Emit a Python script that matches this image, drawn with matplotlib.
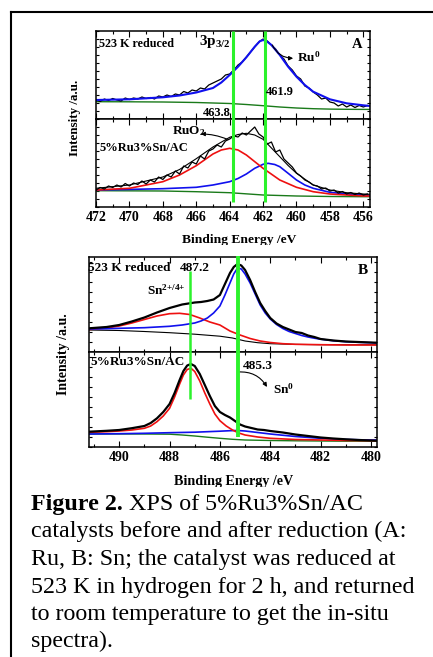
"""XPS figure (Ru 3p and Sn 3d) for 5%Ru3%Sn/AC, before and after reduction."""
import matplotlib
matplotlib.use("Agg")
import matplotlib.pyplot as plt
import numpy as np
from matplotlib.lines import Line2D
from matplotlib.ticker import MultipleLocator
from matplotlib.transforms import Bbox, TransformedBbox, blended_transform_factory

plt.rcParams["font.family"] = "serif"
plt.rcParams["font.serif"] = ["Liberation Serif", "DejaVu Serif"]
plt.rcParams["font.weight"] = "bold"
plt.rcParams["mathtext.fontset"] = "custom"
plt.rcParams["mathtext.rm"] = "Liberation Serif:bold"
plt.rcParams["mathtext.it"] = "Liberation Serif:bold"
plt.rcParams["mathtext.bf"] = "Liberation Serif:bold"

W, H = 433, 657

# ---- Panel A: Ru 3p, 523 K reduced (top) -------------------------------
a_top_data = [19, 17.5, 20, 18.5, 20.5, 19, 18, 21, 19.5, 21, 20, 22, 20.5, 21.5,
              20, 23, 22, 24, 22.5, 25, 24, 27.5, 26, 29, 28, 31, 30, 34, 36, 38,
              40, 44, 45, 49, 54, 57, 62, 67, 72, 77, 80, 78, 74, 70, 64, 60, 53,
              49, 43, 40, 33, 31, 27, 24, 20, 21, 17, 16, 13, 15, 12, 14, 11.5,
              13.5, 12, 13.5]
a_top_fit_e = [472, 470, 468, 467, 466, 465, 464.5, 464, 463.5, 463, 462.5, 462.2,
               462, 461.8, 461.5, 461, 460.5, 460, 459.5, 459, 458, 457, 456, 455.6]
a_top_fit = [19, 19.7, 21.7, 23.5, 26.5, 31, 36.5, 44, 52.3, 61.7, 72.3, 77.7,
             79, 78, 74, 64, 52.3, 42.3, 34, 27.3, 19.7, 15.7, 13.7, 13]
a_top_bg_e = [472, 470, 468, 466, 464, 463, 462, 461, 460, 459, 458, 457, 456, 455.6]
a_top_bg = [17.3, 17.2, 17, 16.5, 15.5, 14.5, 13.3, 12, 11, 10.3, 9.9, 9.7, 9.6, 9.6]

# ---- Panel A: Ru 3p, fresh 5%Ru3%Sn/AC (bottom) -------------------------
a_bot_data = [17, 19.5, 18, 21, 19.5, 22, 20, 23.5, 21, 24, 22.5, 26, 23, 27, 25,
              30, 27.5, 32, 30, 36, 33, 41, 39, 45, 43, 51, 48, 56, 58, 62, 60, 66,
              68, 71, 70, 74, 72, 76, 80, 73, 70, 63, 65, 55, 57, 48, 44, 40, 34,
              31, 27, 25, 22, 21, 18, 19, 16, 17, 14, 15.5, 13, 14.5, 12.5, 14, 12, 13]
a_bot_env_e = [472, 470, 468, 467, 466, 465, 464, 463.5, 463, 462.5, 462, 461.5,
               461, 460.5, 460, 459, 458, 457, 456, 455.6]
a_bot_env = [18.7, 22, 30, 37.5, 48.3, 60, 69.7, 72.5, 73.7, 72, 67.7, 59, 50.3,
             41.5, 33.7, 22, 17, 14.3, 13, 12.7]
a_ruo2_e = [472, 470, 468, 467, 466, 465, 464.5, 464, 463.5, 463, 462, 461, 460,
            459, 458, 457, 456, 455.6]
a_ruo2 = [17, 18.7, 25.3, 32, 41.3, 53, 57, 58.7, 57, 52, 38.7, 27, 19.7, 15.3, 13,
          12, 11, 11]
a_ru_e = [472, 470, 468, 466, 465, 464, 463.5, 463, 462.5, 462, 461.7, 461.3, 461,
          460.5, 460, 459.5, 459, 458, 457, 456, 455.6]
a_ru = [17, 17.6, 18.3, 19.7, 22, 25.3, 28.5, 33, 38.7, 42.7, 43.7, 42.5, 40.3,
        33.7, 27, 22, 18.7, 14.7, 13, 12, 11.7]
a_bot_bg_e = [472, 468, 466, 464, 462, 460, 458, 456, 455.6]
a_bot_bg = [16.3, 16, 15.3, 14.3, 12, 11, 10.5, 10.3, 10.3]

# ---- Panel B: Sn 3d, 523 K reduced (top) --------------------------------
b_top_e = [491.2, 490.5, 490, 489.5, 489, 488.5, 488, 487.5, 487, 486.75, 486.5,
           486.25, 486, 485.8, 485.6, 485.45, 485.3, 485.15, 485.0, 484.8, 484.6,
           484.4, 484.2, 484, 483.75, 483.5, 483.25, 483, 482.75, 482.5, 482.25,
           482, 481.5, 481, 480.5, 480, 479.8]
b_top_data = [23.7, 25, 27, 30.5, 34.5, 39.5, 44, 47.5, 49.5, 50, 51, 52.5, 57, 68,
              79, 85, 88, 86.5, 82, 72, 60, 49, 41, 34, 28.5, 25, 22.5, 20, 19,
              16.5, 15, 13, 11.5, 10.5, 10, 9.5, 9.3]
b_top_sn0 = [23, 23.3, 23.7, 24, 24.3, 25, 25.7, 27, 29, 31, 34, 39, 46, 57, 69,
             78, 84, 83, 78, 69, 58, 47, 39, 33, 27.5, 23.5, 20.5, 18.5, 16.5, 15,
             13.8, 12.8, 11.3, 10.3, 9.7, 9.3, 9]
b_top_ox_e = [491.2, 490.5, 490, 489.5, 489, 488.5, 488, 487.6, 487.2, 486.8, 486.4,
              486, 485.6, 485.2, 484.8, 484.4, 484, 483.5, 483, 482, 481, 479.8]
b_top_ox = [22.5, 24, 26, 29, 32.5, 36, 38.3, 38.7, 37.5, 34, 30, 27, 21, 17, 13.5,
            11, 9.5, 8.3, 7.7, 7.3, 7, 7]
b_top_bg_e = [491.2, 490, 489, 488, 487, 486, 485.5, 485, 484.5, 484, 483, 482, 479.8]
b_top_bg = [22, 21.5, 20.5, 19.3, 17.8, 15.8, 14, 11, 9.3, 8.3, 7.6, 7.3, 7.2]

# ---- Panel B: Sn 3d, fresh 5%Ru3%Sn/AC (bottom) -------------------------
b_bot_e = [491.2, 490.5, 490, 489.5, 489, 488.75, 488.5, 488.25, 488, 487.8, 487.6,
           487.45, 487.3, 487.15, 487.0, 486.8, 486.6, 486.4, 486.2, 486, 485.8,
           485.6, 485.4, 485.2, 485, 484.75, 484.5, 484.25, 484, 483.5, 483,
           482.5, 482, 481.5, 481, 480.5, 480, 479.8]
b_bot_data = [15.3, 16.2, 17, 18.8, 21, 24, 28.7, 35, 43, 54, 67, 76, 81.5, 83, 81,
              73, 62, 51, 41, 35, 32, 29.5, 26, 22.5, 20.5, 19, 17.5, 17, 16, 14.5,
              12.5, 11, 9.5, 8.5, 7.7, 7, 6.5, 6.3]
b_bot_ox_e = [491.2, 490.5, 490, 489.5, 489, 488.75, 488.5, 488.25, 488, 487.8,
              487.6, 487.45, 487.3, 487.15, 487.0, 486.8, 486.6, 486.4, 486.2, 486,
              485.75, 485.5, 485.25, 485, 484.5, 484, 483, 482, 481, 479.8]
b_bot_ox = [14.7, 15.3, 16, 17, 18.7, 21, 25.3, 31, 38.7, 50, 63, 72, 77.5, 78.7,
            75.5, 66, 54, 43, 33, 26.3, 21, 17, 14, 12, 10, 8.7, 7.5, 7, 6.5, 6.3]
b_bot_sn0_e = [491.2, 490, 489, 488, 487, 486.5, 486, 485.6, 485.3, 485, 484.5, 484,
               483, 482, 481, 480, 479.8]
b_bot_sn0 = [13, 13.3, 13.7, 14.3, 14.8, 15.3, 15.8, 16.3, 16.5, 16, 14.5, 13, 10.5,
             8.7, 7.5, 7, 7]
b_bot_bg_e = [491.2, 490, 489, 488, 487.5, 487, 486.5, 486, 485.5, 485, 484, 483,
              482, 481, 479.8]
b_bot_bg = [13, 13, 13, 12.8, 12, 11, 9.8, 8.7, 7.7, 7, 6.5, 6.2, 6, 5.8, 5.8]

ru_peaks = [463.8, 461.9]
sn_peaks = [487.2, 485.3]
a_ticks = [472, 470, 468, 466, 464, 462, 460, 458, 456]
b_ticks = [490, 488, 486, 484, 482, 480]

caption = [
    "catalysts before and after reduction (A:",
    "Ru, B: Sn; the catalyst was reduced at",
    "523 K in hydrogen for 2 h, and returned",
    "to room temperature to get the in-situ",
    "spectra).",
]

GREEN = "#2cf22c"
DKGREEN = "#1a7a1a"


def fx(px):
    return px / W


def fy(py):
    return 1 - py / H


def make_axes(fig, left, top, right, bottom):
    return fig.add_axes([fx(left), fy(bottom), (right - left) / W, (bottom - top) / H])


def style(ax, xlim, ylim, ticks, ystep, labels):
    ax.set_xlim(*xlim)
    ax.set_ylim(0, ylim)
    ax.set_xticks(ticks)
    ax.xaxis.set_minor_locator(MultipleLocator(1))
    ax.yaxis.set_major_locator(MultipleLocator(ystep))
    ax.set_yticklabels([])
    ax.tick_params(which="both", direction="in", top=True, right=True, width=0.8)
    ax.tick_params(axis="x", which="major", length=4, labelsize=10, pad=3)
    ax.tick_params(axis="x", which="minor", length=2.5)
    ax.tick_params(axis="y", length=2.5)
    ax.tick_params(labelleft=False, labelbottom=labels)
    for sp in ax.spines.values():
        sp.set_linewidth(1.1)


def vline(fig, ax, x, y0, y1, lw):
    tr = blended_transform_factory(ax.transData, fig.transFigure)
    fig.add_artist(Line2D([x, x], [fy(y0), fy(y1)], transform=tr, color=GREEN,
                          lw=lw, solid_capstyle="butt"))


def label(fig, px, py, s, size, **kw):
    kw.setdefault("ha", "left")
    kw.setdefault("va", "center")
    return fig.text(fx(px), fy(py), s, fontsize=size, fontweight="bold", **kw)


def arrow(ax, head, tail, rad):
    ax.annotate("", xy=head, xytext=tail,
                arrowprops=dict(arrowstyle="-|>", color="black", lw=0.8,
                                mutation_scale=6, shrinkA=0, shrinkB=0,
                                connectionstyle=f"arc3,rad={rad}"))


def clipped_xlabel(fig, px, py, clip_py, size):
    t = label(fig, px, py, "Binding Energy /eV", size, ha="center")
    t.set_clip_box(TransformedBbox(Bbox([[0, fy(clip_py)], [1, 1]]), fig.transFigure))
    t.set_clip_on(True)


def main():
    fig = plt.figure(figsize=(W / 100, H / 100), dpi=100)

    # outer frame
    fig.add_artist(Line2D([fx(11), fx(11)], [fy(12), fy(H)], color="black", lw=1.5))
    fig.add_artist(Line2D([fx(11), fx(W)], [fy(12), fy(12)], color="black", lw=1.5))

    # ---------------- panel A ----------------
    a_e = 472 - 0.25 * np.arange(len(a_top_data))
    at = make_axes(fig, 96, 31, 370, 119)
    ab = make_axes(fig, 96, 119, 370, 207)
    at.plot(a_top_bg_e, a_top_bg, color=DKGREEN, lw=1.0)
    at.plot(a_e, a_top_data, color="black", lw=0.9)
    at.plot(a_top_fit_e, a_top_fit, color="#1010ee", lw=1.5)
    ab.plot(a_bot_bg_e, a_bot_bg, color=DKGREEN, lw=1.0)
    ab.plot(a_ru_e, a_ru, color="#1010ee", lw=1.2)
    ab.plot(a_ruo2_e, a_ruo2, color="#ee1010", lw=1.2)
    ab.plot(a_e, a_bot_data, color="black", lw=0.9)
    ab.plot(a_bot_env_e, a_bot_env, color="black", lw=0.8)
    style(at, (472, 455.6), 88, a_ticks, 8, False)
    style(ab, (472, 455.6), 88, a_ticks, 8, True)
    for v in ru_peaks:
        vline(fig, ab, v, 31, 202, 2.2)
    arrow(at, (460.2, 60.7), (461.45, 74), 0.3)
    arrow(ab, (465.73, 73), (464.14, 67.7), 0.1)

    label(fig, 99, 44, "523 K reduced", 8.7)
    label(fig, 199, 41, "3p$_{3/2}$", 11)
    label(fig, 357, 44, "A", 10.5, ha="center")
    label(fig, 297, 57, "Ru$^{0}$", 9.5)
    label(fig, 266, 92, "461.9", 9)
    label(fig, 203, 113, "463.8", 9)
    label(fig, 172, 131, "RuO$_{2}$", 9.5)
    label(fig, 99, 148, "5%Ru3%Sn/AC", 9)
    label(fig, 75, 118, "Intensity /a.u.", 9.4, ha="center", rotation=90)
    clipped_xlabel(fig, 239, 240, 245, 9.7)

    # ---------------- panel B ----------------
    bt = make_axes(fig, 89, 257, 377, 352)
    bb = make_axes(fig, 89, 352, 377, 447)
    bt.plot(b_top_bg_e, b_top_bg, color="black", lw=0.8)
    bt.plot(b_top_ox_e, b_top_ox, color="#ee1010", lw=1.2)
    bt.plot(b_top_e, b_top_sn0, color="#1010ee", lw=1.2)
    bt.plot(b_top_e, b_top_data, color="black", lw=1.6)
    bb.plot(b_bot_bg_e, b_bot_bg, color=DKGREEN, lw=1.0)
    bb.plot(b_bot_sn0_e, b_bot_sn0, color="#1010ee", lw=1.2)
    bb.plot(b_bot_ox_e, b_bot_ox, color="#ee1010", lw=1.2)
    bb.plot(b_bot_e, b_bot_data, color="black", lw=1.6)
    style(bt, (491.2, 479.76), 95, b_ticks, 10, False)
    style(bb, (491.2, 479.76), 95, b_ticks, 10, True)
    vline(fig, bb, sn_peaks[0], 271, 399, 1.8)
    vline(fig, bb, sn_peaks[1], 256, 437, 2.8)
    arrow(bb, (484.13, 60), (485.28, 75), -0.3)

    label(fig, 88, 268, "523 K reduced", 9.5)
    label(fig, 180, 268, "487.2", 9.5)
    label(fig, 147, 290, "Sn$^{2{+}/4{+}}$", 9.5)
    label(fig, 363, 271, "B", 11, ha="center")
    label(fig, 90, 362, "5%Ru3%Sn/AC", 9.5)
    label(fig, 243, 366, "485.3", 9.5)
    label(fig, 273, 389, "Sn$^{0}$", 9.5)
    label(fig, 63, 354, "Intensity /a.u.", 10, ha="center", rotation=90)
    clipped_xlabel(fig, 234, 482, 487, 10.2)

    # ---------------- caption ----------------
    cap_size = 17.3
    head = fig.text(fx(31), fy(510), "Figure 2.", fontsize=cap_size,
                    fontweight="bold", va="baseline")
    fig.canvas.draw()
    bb_head = head.get_window_extent(fig.canvas.get_renderer())
    fig.text(bb_head.x1 / fig.bbox.width, fy(510), " XPS of 5%Ru3%Sn/AC",
             fontsize=cap_size, fontweight="normal", va="baseline")
    for i, line in enumerate(caption):
        fig.text(fx(31), fy(537.5 + 27.5 * i), line, fontsize=cap_size,
                 fontweight="normal", va="baseline")

    fig.savefig("out.png", dpi=100)


if __name__ == "__main__":
    main()
